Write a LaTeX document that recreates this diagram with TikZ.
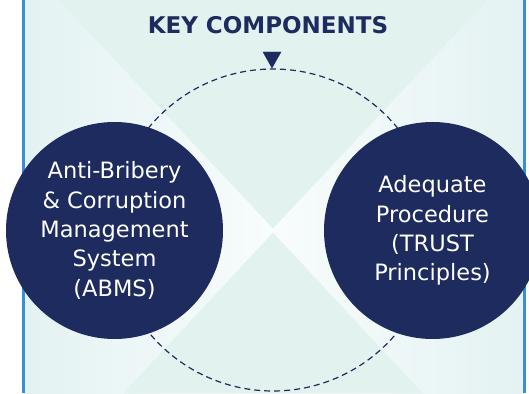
\documentclass[tikz,border=0pt]{standalone}
\usepackage{fontspec}
\setmainfont{DejaVu Sans}
\definecolor{navy}{HTML}{1E2B5E}
\definecolor{edgeblue}{HTML}{3A8ED6}
\definecolor{tealdark}{HTML}{E1F2EF}
\definecolor{tealpale}{HTML}{E4F2F2}
\definecolor{tealwhite}{HTML}{F8FCFC}
\tikzset{
	keycircle/.style={circle,fill=navy,minimum size=217pt,inner sep=0pt,align=center,text=white,
		font=\fontsize{22.5}{29.3}\selectfont},
}
\begin{document}
\begin{tikzpicture}[x=1pt,y=1pt]
		\useasboundingbox (0,0) rectangle (529,393);
		\shade[left color=tealpale,right color=tealwhite] (24.7,0) rectangle (273,393);
		\shade[left color=tealwhite,right color=tealpale] (273,0) rectangle (523.3,393);
		\draw[draw=tealdark,fill=tealdark] (59,393) -- (487,393) -- (273,165) -- (59,393);
		\draw[draw=tealdark,fill=tealdark] (124,0) -- (422,0) -- (273,160) -- (124,0);
		\draw[draw=edgeblue,line width=2.7] (23.3,0) -- (23.3,393);
		\draw[draw=edgeblue,line width=2.7] (524.7,0) -- (524.7,393);
		\draw[draw=navy,line width=1.2,dash pattern=on 6pt off 4pt] (273,163) circle (161);
		\draw[draw=navy,fill=navy] (263,341) -- (281,341) -- (272,325) -- (263,341);
		\node[anchor=base,navy,font=\fontsize{23}{27}\selectfont\bfseries] (title) at (268,359) {KEY COMPONENTS};
		\node[keycircle] (abms) at (114.5,162.5) {Anti-Bribery\\ \& Corruption\\ Management\\ System\\ (ABMS)};
		\node[keycircle] (trust) at (432.5,162.5) {Adequate\\ Procedure\\ (TRUST\\ Principles)};
	\end{tikzpicture}
\end{document}
